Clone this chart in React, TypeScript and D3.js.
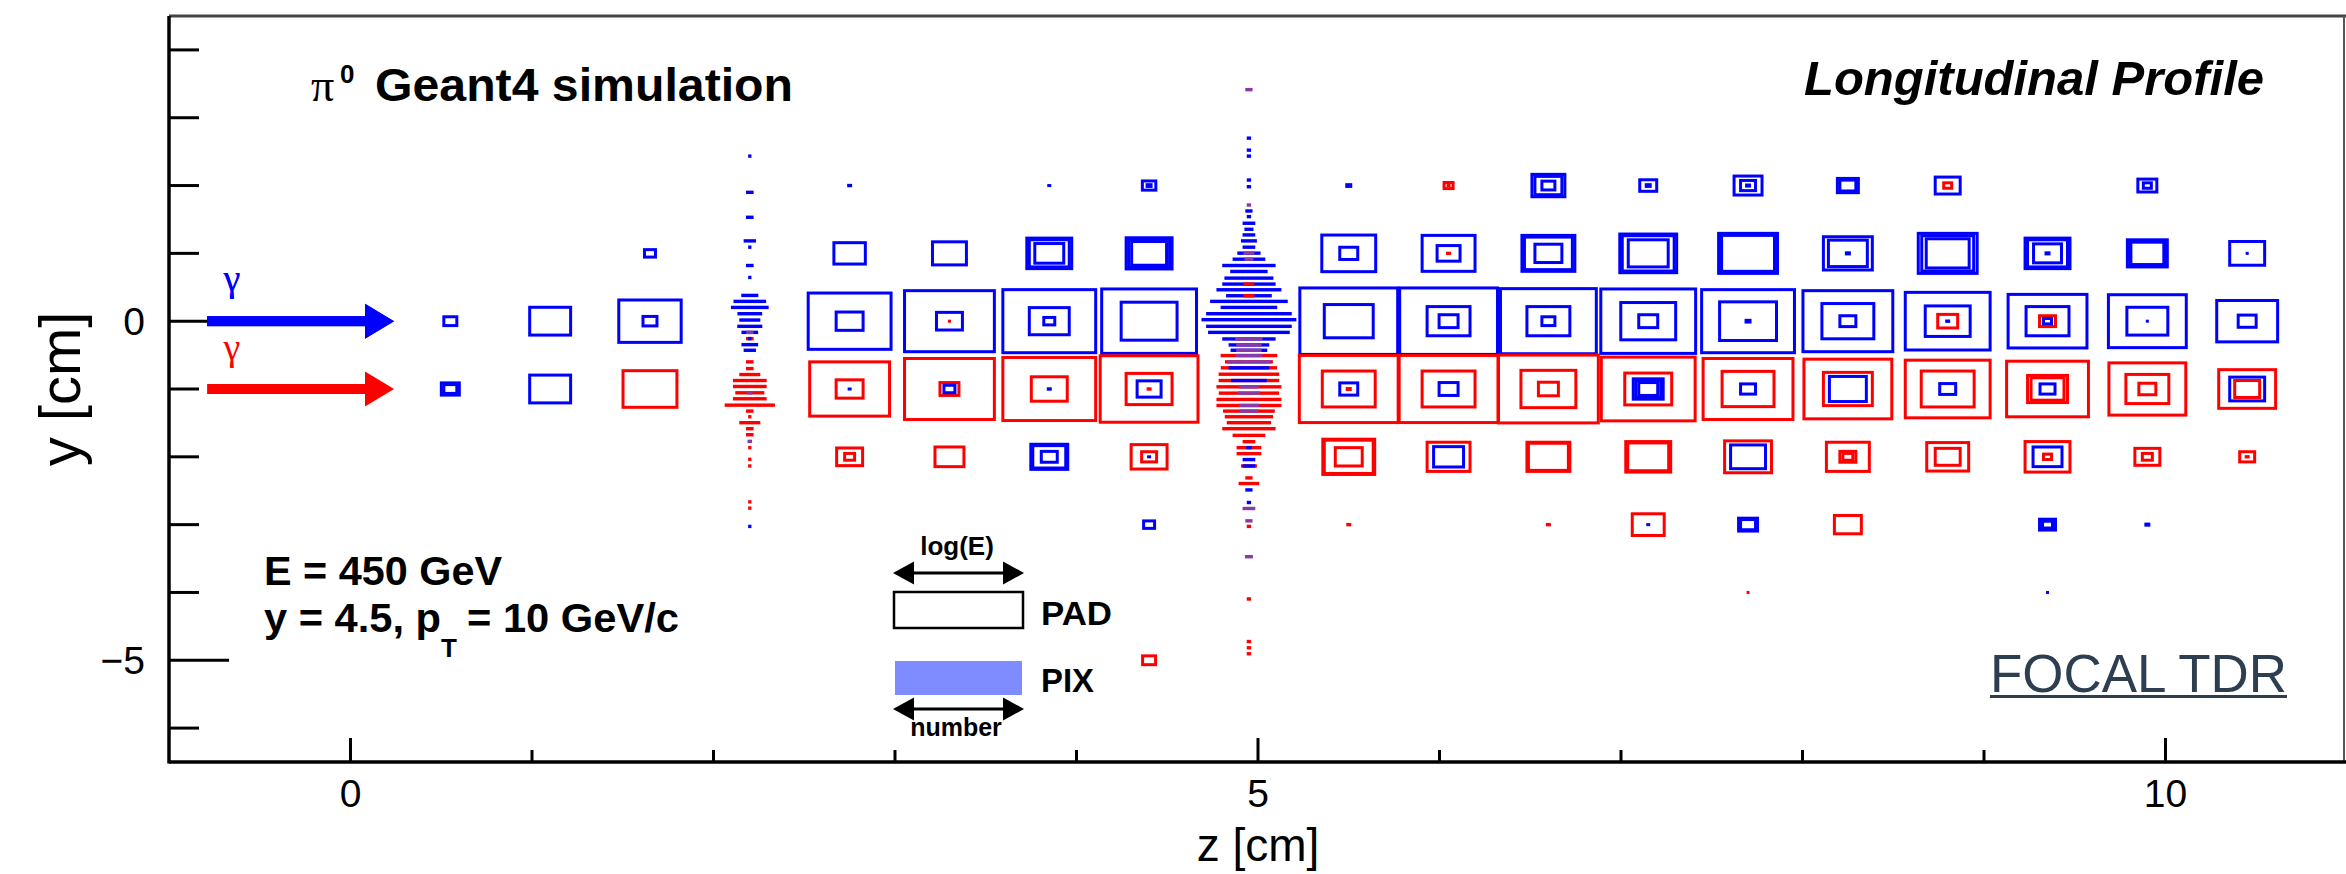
import React from "react";
import * as d3 from "d3";

// ---------- data ----------
// z positions (cm) of the 19 longitudinal layers
const layerZ = [0.55, 1.1, 1.65, 2.2, 2.75, 3.3, 3.85, 4.4, 4.95, 5.5, 6.05, 6.6, 7.15, 7.7, 8.25, 8.8, 9.35, 9.9, 10.45];
const pixLayers = [4, 9];

// PAD boxes: [layer, row y (cm), photon colour, relative size log(E)]
type Box = [number, number, string, number];
const padBoxes: Box[] = [
  [1, 0, "b", 0.13],
  [1, -1, "b", 0.18], [1, -1, "b", 0.13],
  [2, 0, "b", 0.41],
  [2, -1, "b", 0.41],
  [3, 1, "b", 0.11],
  [3, 0, "b", 0.625], [3, 0, "b", 0.14],
  [3, -1, "r", 0.54],
  [5, 2, "b", 0.05],
  [5, 1, "b", 0.315],
  [5, 0, "b", 0.83], [5, 0, "b", 0.27],
  [5, -1, "r", 0.8], [5, -1, "r", 0.27], [5, -1, "b", 0.04],
  [5, -2, "r", 0.26], [5, -2, "r", 0.1],
  [6, 1, "b", 0.34],
  [6, 0, "b", 0.9], [6, 0, "b", 0.26], [6, 0, "r", 0.03],
  [6, -1, "r", 0.9], [6, -1, "r", 0.19], [6, -1, "b", 0.11],
  [6, -2, "r", 0.29],
  [7, 2, "b", 0.04],
  [7, 1, "b", 0.45], [7, 1, "b", 0.4], [7, 1, "b", 0.29],
  [7, 0, "b", 0.93], [7, 0, "b", 0.4], [7, 0, "b", 0.11],
  [7, -1, "r", 0.93], [7, -1, "r", 0.36], [7, -1, "b", 0.05],
  [7, -2, "b", 0.37], [7, -2, "b", 0.33], [7, -2, "b", 0.16],
  [8, 2, "b", 0.135], [8, 2, "b", 0.07],
  [8, 1, "b", 0.46], [8, 1, "b", 0.41], [8, 1, "b", 0.35],
  [8, 0, "b", 0.95], [8, 0, "b", 0.56],
  [8, -1, "r", 0.98], [8, -1, "r", 0.46], [8, -1, "b", 0.24], [8, -1, "r", 0.05],
  [8, -2, "r", 0.36], [8, -2, "r", 0.15], [8, -2, "b", 0.04],
  [8, -3, "b", 0.11],
  [8, -5, "r", 0.13],
  [10, 2, "b", 0.07],
  [10, 1, "b", 0.54], [10, 1, "b", 0.18],
  [10, 0, "b", 0.98], [10, 0, "b", 0.49],
  [10, -1, "r", 0.99], [10, -1, "r", 0.53], [10, -1, "b", 0.18], [10, -1, "r", 0.06],
  [10, -2, "r", 0.52], [10, -2, "r", 0.49], [10, -2, "r", 0.27],
  [10, -3, "r", 0.05],
  [11, 2, "r", 0.09], [11, 2, "r", 0.04],
  [11, 1, "b", 0.53], [11, 1, "b", 0.23], [11, 1, "r", 0.05],
  [11, 0, "b", 0.98], [11, 0, "b", 0.43], [11, 0, "b", 0.19],
  [11, -1, "r", 0.99], [11, -1, "r", 0.53], [11, -1, "b", 0.19],
  [11, -2, "r", 0.43], [11, -2, "b", 0.3],
  [12, 2, "b", 0.33], [12, 2, "b", 0.27], [12, 2, "b", 0.13],
  [12, 1, "b", 0.53], [12, 1, "b", 0.48], [12, 1, "b", 0.27],
  [12, 0, "b", 0.96], [12, 0, "b", 0.43], [12, 0, "b", 0.13],
  [12, -1, "r", 1.0], [12, -1, "r", 0.55], [12, -1, "r", 0.2],
  [12, -2, "r", 0.43], [12, -2, "r", 0.4],
  [12, -3, "r", 0.05],
  [13, 2, "b", 0.17], [13, 2, "b", 0.07],
  [13, 1, "b", 0.57], [13, 1, "b", 0.52], [13, 1, "b", 0.4],
  [13, 0, "b", 0.95], [13, 0, "b", 0.55], [13, 0, "b", 0.19],
  [13, -1, "r", 0.94], [13, -1, "r", 0.47], [13, -1, "b", 0.3], [13, -1, "b", 0.25], [13, -1, "b", 0.19],
  [13, -2, "r", 0.45], [13, -2, "r", 0.41],
  [13, -3, "r", 0.32], [13, -3, "b", 0.04],
  [14, 2, "b", 0.28], [14, 2, "b", 0.15], [14, 2, "b", 0.06],
  [14, 1, "b", 0.59], [14, 1, "b", 0.56], [14, 1, "b", 0.53],
  [14, 0, "b", 0.93], [14, 0, "b", 0.57], [14, 0, "b", 0.07],
  [14, -1, "r", 0.9], [14, -1, "r", 0.52], [14, -1, "b", 0.15],
  [14, -2, "r", 0.47], [14, -2, "b", 0.35],
  [14, -3, "b", 0.19], [14, -3, "b", 0.15],
  [14, -4, "r", 0.03],
  [15, 2, "b", 0.21], [15, 2, "b", 0.16],
  [15, 1, "b", 0.49], [15, 1, "b", 0.39], [15, 1, "b", 0.06],
  [15, 0, "b", 0.9], [15, 0, "b", 0.52], [15, 0, "b", 0.16],
  [15, -1, "r", 0.88], [15, -1, "r", 0.49], [15, -1, "b", 0.37],
  [15, -2, "r", 0.43], [15, -2, "r", 0.16], [15, -2, "r", 0.1],
  [15, -3, "r", 0.27],
  [16, 2, "b", 0.25], [16, 2, "r", 0.08],
  [16, 1, "b", 0.59], [16, 1, "b", 0.52], [16, 1, "b", 0.43],
  [16, 0, "b", 0.85], [16, 0, "b", 0.45], [16, 0, "r", 0.2], [16, 0, "b", 0.05],
  [16, -1, "r", 0.85], [16, -1, "r", 0.53], [16, -1, "b", 0.16],
  [16, -2, "r", 0.42], [16, -2, "r", 0.25],
  [17, 1, "b", 0.45], [17, 1, "b", 0.4], [17, 1, "b", 0.28], [17, 1, "b", 0.06],
  [17, 0, "b", 0.79], [17, 0, "b", 0.43], [17, 0, "r", 0.16], [17, 0, "b", 0.08],
  [17, -1, "r", 0.82], [17, -1, "r", 0.4], [17, -1, "r", 0.33], [17, -1, "b", 0.15],
  [17, -2, "r", 0.45], [17, -2, "b", 0.29], [17, -2, "r", 0.08],
  [17, -3, "b", 0.16], [17, -3, "b", 0.1],
  [17, -4, "b", 0.03],
  [18, 2, "b", 0.19], [18, 2, "b", 0.08],
  [18, 1, "b", 0.4], [18, 1, "b", 0.36], [18, 1, "b", 0.33],
  [18, 0, "b", 0.78], [18, 0, "b", 0.41], [18, 0, "b", 0.03],
  [18, -1, "r", 0.77], [18, -1, "r", 0.43], [18, -1, "r", 0.17],
  [18, -2, "r", 0.25], [18, -2, "r", 0.1],
  [18, -3, "b", 0.06],
  [19, 1, "b", 0.35], [19, 1, "b", 0.02],
  [19, 0, "b", 0.61], [19, 0, "b", 0.18],
  [19, -1, "r", 0.57], [19, -1, "b", 0.35], [19, -1, "r", 0.25],
  [19, -2, "r", 0.15], [19, -2, "r", 0.05],
];

// PIX strips: [y (cm), extent in z (cm) ~ number of pixels, colour (b, r, m = both)]
type Strip = [number, number, string];
const pixLayer4: Strip[] = [
  [2.434, 0.018, "b"], [1.9, 0.042, "b"], [1.532, 0.042, "b"], [1.184, 0.068, "b"],
  [1.091, 0.018, "b"], [0.821, 0.042, "b"], [0.645, 0.018, "b"], [0.38, 0.094, "b"],
  [0.292, 0.18, "b"], [0.203, 0.208, "b"], [0.11, 0.136, "b"], [0.017, 0.116, "b"],
  [-0.076, 0.138, "b"], [-0.165, 0.092, "b"], [-0.165, 0.04, "m"], [-0.257, 0.042, "r"],
  [-0.257, 0.02, "b"], [-0.346, 0.092, "b"], [-0.429, 0.068, "b"], [-0.6, 0.042, "r"],
  [-0.699, 0.042, "r"], [-0.787, 0.116, "r"], [-0.875, 0.186, "r"], [-0.963, 0.186, "r"],
  [-1.056, 0.16, "r"], [-1.056, 0.03, "m"], [-1.144, 0.186, "r"], [-1.238, 0.277, "r"],
  [-1.326, 0.042, "r"], [-1.409, 0.018, "r"], [-1.497, 0.116, "r"], [-1.585, 0.042, "r"],
  [-1.674, 0.042, "r"], [-1.772, 0.025, "m"], [-1.865, 0.018, "r"], [-2.037, 0.018, "r"],
  [-2.135, 0.018, "r"], [-2.664, 0.018, "r"], [-2.757, 0.018, "r"], [-3.026, 0.018, "b"],
];
const pixLayer9: Strip[] = [
  [3.414, 0.04, "m"], [2.699, 0.024, "b"], [2.522, 0.024, "b"], [2.434, 0.024, "b"],
  [2.081, 0.024, "b"], [1.983, 0.024, "b"], [1.713, 0.024, "m"], [1.625, 0.04, "b"],
  [1.542, 0.024, "b"], [1.444, 0.07, "b"], [1.355, 0.05, "b"], [1.272, 0.07, "b"],
  [1.184, 0.088, "b"], [1.091, 0.07, "b"], [1.003, 0.128, "b"], [1.003, 0.06, "m"],
  [0.914, 0.18, "b"], [0.914, 0.05, "m"], [0.821, 0.294, "b"], [0.733, 0.206, "b"],
  [0.635, 0.27, "b"], [0.547, 0.294, "b"], [0.547, 0.06, "r"], [0.463, 0.358, "b"],
  [0.375, 0.252, "b"], [0.375, 0.06, "r"], [0.292, 0.428, "b"], [0.203, 0.312, "b"],
  [0.11, 0.472, "b"], [0.022, 0.523, "b"], [-0.076, 0.472, "b"], [-0.165, 0.45, "b"],
  [-0.262, 0.294, "b"], [-0.262, 0.15, "m"], [-0.35, 0.224, "b"], [-0.35, 0.14, "m"],
  [-0.429, 0.202, "b"], [-0.429, 0.14, "m"], [-0.507, 0.312, "r"], [-0.507, 0.147, "m"],
  [-0.6, 0.264, "r"], [-0.6, 0.24, "m"], [-0.688, 0.31, "r"], [-0.688, 0.224, "b"],
  [-0.782, 0.334, "r"], [-0.875, 0.334, "r"], [-0.875, 0.197, "b"], [-0.968, 0.358, "r"],
  [-0.968, 0.11, "m"], [-1.061, 0.332, "r"], [-1.061, 0.12, "m"], [-1.154, 0.358, "r"],
  [-1.243, 0.358, "r"], [-1.243, 0.11, "m"], [-1.326, 0.285, "r"], [-1.326, 0.1, "m"],
  [-1.409, 0.266, "r"], [-1.497, 0.244, "r"], [-1.585, 0.294, "r"], [-1.684, 0.18, "r"],
  [-1.777, 0.07, "r"], [-1.865, 0.136, "r"], [-1.865, 0.03, "b"], [-1.953, 0.136, "r"],
  [-2.041, 0.07, "b"], [-2.135, 0.088, "r"], [-2.135, 0.07, "b"], [-2.311, 0.04, "r"],
  [-2.394, 0.114, "r"], [-2.488, 0.04, "b"], [-2.674, 0.024, "b"], [-2.762, 0.07, "m"],
  [-2.944, 0.04, "m"], [-3.026, 0.024, "r"], [-3.473, 0.044, "m"], [-4.096, 0.024, "r"],
  [-4.724, 0.024, "r"], [-4.816, 0.024, "r"], [-4.904, 0.024, "r"],
];

// incoming photons
const photonRows = [0, -1];
const photonColors = ["b", "r"];
const arrowFrom = -0.79;
const arrowHeadBase = 0.08;
const arrowTo = 0.24;

const xTicks = [0, 1, 2, 3, 4, 5, 6, 7, 8, 9, 10];
const xTickLabels = [0, 5, 10];
const yTicks = [-6, -5, -4, -3, -2, -1, 0, 1, 2, 3, 4];
const yTickLabels = [-5, 0];

const colorMap: Record<string, string> = { b: "#0000ff", r: "#ff0000", m: "#8a3aa8" };

const SANS = "'Liberation Sans', Arial, Helvetica, sans-serif";
const SERIF = "'Liberation Serif', 'Times New Roman', serif";

export default function App() {
  const W = 2346, H = 874;
  const x = d3.scaleLinear().domain([-1, 11]).range([169, 2347]);
  const y = d3.scaleLinear().domain([-6.5, 4.5]).range([762, 16]);
  const cellW = x(0.55) - x(0);
  const cellH = y(0) - y(1);
  const x0 = x(-1), x1 = x(11), yTop = y(4.5), yBot = y(-6.5);

  const boxes = padBoxes.map(([k, row, c, f], i) => {
    const cx = x(layerZ[k - 1]);
    const cy = y(row);
    const w = f * cellW;
    const h = f * cellH;
    const col = colorMap[c];
    if (w < 7) {
      return <rect key={"b" + i} x={cx - Math.max(w, 3) / 2} y={cy - Math.max(h, 3) / 2} width={Math.max(w, 3)} height={Math.max(h, 3)} fill={col} />;
    }
    return <rect key={"b" + i} x={cx - w / 2} y={cy - h / 2} width={w} height={h} fill="none" stroke={col} strokeWidth={3} />;
  });

  const strips = [pixLayer4, pixLayer9].flatMap((arr, li) => {
    const cx = x(layerZ[pixLayers[li] - 1]);
    return arr.map(([yv, wv, c], i) => {
      const w = Math.max(x(wv) - x(0), 3);
      return <rect key={`p${li}-${i}`} x={cx - w / 2} y={y(yv) - 1.7} width={w} height={3.4} fill={colorMap[c]} />;
    });
  });

  const arrows = photonRows.map((row, i) => {
    const col = colorMap[photonColors[i]];
    const cy = y(row);
    return (
      <g key={"a" + i}>
        <rect x={x(arrowFrom)} y={cy - 5} width={x(arrowHeadBase) - x(arrowFrom)} height={10} fill={col} />
        <polygon points={`${x(arrowHeadBase)},${cy - 17.5} ${x(arrowTo)},${cy} ${x(arrowHeadBase)},${cy + 17.5}`} fill={col} />
        <text x={232} y={cy - (i === 0 ? 30 : 29)} fill={col} fontFamily={SERIF} fontSize={38} textAnchor="middle">γ</text>
      </g>
    );
  });

  const dblArrow = (yy: number, xa: number, xb: number) => (
    <g>
      <line x1={xa + 20} x2={xb - 20} y1={yy} y2={yy} stroke="#000" strokeWidth={3} />
      <polygon points={`${xa},${yy} ${xa + 21},${yy - 11.5} ${xa + 21},${yy + 11.5}`} fill="#000" />
      <polygon points={`${xb},${yy} ${xb - 21},${yy - 11.5} ${xb - 21},${yy + 11.5}`} fill="#000" />
    </g>
  );

  return (
    <svg width={W} height={H} style={{ position: "absolute", left: 0, top: 0, background: "#fff" }}>
      <rect x={0} y={0} width={W} height={H} fill="#fff" />
      {/* frame */}
      <line x1={x0} x2={x1} y1={yTop} y2={yTop} stroke="#444" strokeWidth={3} />
      <line x1={2344} x2={2344} y1={yTop} y2={yBot} stroke="#555" strokeWidth={2} />

      {boxes}
      {strips}
      {arrows}

      {/* axes */}
      <line x1={x0} x2={x0} y1={yTop} y2={yBot + 1.5} stroke="#000" strokeWidth={3.5} />
      <line x1={x0} x2={x1} y1={yBot} y2={yBot} stroke="#000" strokeWidth={3.5} />
      {xTicks.map((t) => (
        <line key={"xt" + t} x1={x(t)} x2={x(t)} y1={yBot} y2={yBot - (t % 5 === 0 ? 24 : 12)} stroke="#000" strokeWidth={3} />
      ))}
      {yTicks.map((t) => (
        <line key={"yt" + t} x1={x0} x2={x0 + (t % 5 === 0 ? 60 : 30)} y1={y(t)} y2={y(t)} stroke="#000" strokeWidth={3} />
      ))}
      {/* redraw arrow over y=0 tick */}
      {arrows[0]}
      {xTickLabels.map((t) => (
        <text key={"xl" + t} x={x(t)} y={807} fontFamily={SANS} fontSize={39} textAnchor="middle">{t}</text>
      ))}
      {yTickLabels.map((t) => (
        <text key={"yl" + t} x={145} y={y(t) + 14} fontFamily={SANS} fontSize={39} textAnchor="end">{t < 0 ? "\u2212" + Math.abs(t) : t}</text>
      ))}
      <text x={(x0 + x1) / 2} y={861} fontFamily={SANS} fontSize={46} textAnchor="middle">z [cm]</text>
      <text transform={`translate(80,${(yTop + yBot) / 2}) rotate(-90)`} fontFamily={SANS} fontSize={58} textAnchor="middle">y [cm]</text>

      {/* title texts */}
      <text x={311} y={101} fontFamily={SERIF} fontSize={46}>π</text>
      <text x={340} y={83} fontFamily={SANS} fontWeight="bold" fontSize={26}>0</text>
      <text x={375} y={101} fontFamily={SANS} fontWeight="bold" fontSize={46} textLength={418} lengthAdjust="spacingAndGlyphs">Geant4 simulation</text>
      <text x={1804} y={95} fontFamily={SANS} fontWeight="bold" fontStyle="italic" fontSize={49} textLength={460} lengthAdjust="spacingAndGlyphs">Longitudinal Profile</text>

      <text x={264} y={585} fontFamily={SANS} fontWeight="bold" fontSize={41} textLength={238} lengthAdjust="spacingAndGlyphs">E = 450 GeV</text>
      <text x={264} y={632} fontFamily={SANS} fontWeight="bold" fontSize={41} textLength={177} lengthAdjust="spacingAndGlyphs">y = 4.5, p</text>
      <text x={441} y={657} fontFamily={SANS} fontWeight="bold" fontSize={26}>T</text>
      <text x={467} y={632} fontFamily={SANS} fontWeight="bold" fontSize={41} textLength={212} lengthAdjust="spacingAndGlyphs">= 10 GeV/c</text>

      {/* legend */}
      <text x={957} y={555} fontFamily={SANS} fontWeight="bold" fontSize={26} textAnchor="middle">log(E)</text>
      {dblArrow(573, 893, 1024)}
      <rect x={894} y={592} width={129} height={36} fill="none" stroke="#000" strokeWidth={2.5} />
      <text x={1041} y={625} fontFamily={SANS} fontWeight="bold" fontSize={34} textLength={71} lengthAdjust="spacingAndGlyphs">PAD</text>
      <rect x={895} y={661} width={127} height={34} fill="#7f8cff" />
      <text x={1041} y={692} fontFamily={SANS} fontWeight="bold" fontSize={34} textLength={53} lengthAdjust="spacingAndGlyphs">PIX</text>
      {dblArrow(709, 893, 1024)}
      <text x={956} y={736} fontFamily={SANS} fontWeight="bold" fontSize={25} textAnchor="middle">number</text>

      {/* FOCAL TDR */}
      <text x={1990} y={692} fontFamily={SANS} fontSize={54} fill="#2c3e50" textLength={297} lengthAdjust="spacingAndGlyphs">FOCAL TDR</text>
      <rect x={1990} y={695} width={297} height={3} fill="#2c3e50" />
    </svg>
  );
}
